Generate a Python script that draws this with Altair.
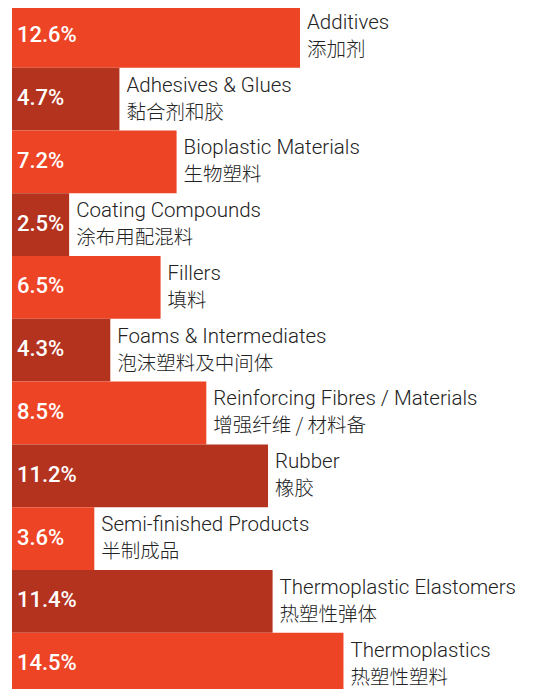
import altair as alt
import pandas as pd

categories_en = ["Additives", "Adhesives & Glues", "Bioplastic Materials", "Coating Compounds",
                 "Fillers", "Foams & Intermediates", "Reinforcing Fibres / Materials", "Rubber",
                 "Semi-finished Products", "Thermoplastic Elastomers", "Thermoplastics"]
categories_zh = ["添加剂", "黏合剂和胶", "生物塑料", "涂布用配混料", "填料", "泡沫塑料及中间体",
                 "增强纤维 / 材料备", "橡胶", "半制成品", "热塑性弹体", "热塑性塑料"]
shares = [12.6, 4.7, 7.2, 2.5, 6.5, 4.3, 8.5, 11.2, 3.6, 11.4, 14.5]
labels = ["12.6%", "4.7%", "7.2%", "2.5%", "6.5%", "4.3%", "8.5%", "11.2%", "3.6%", "11.4%", "14.5%"]
palette = ["#EE4426", "#B4331F"]

df = pd.DataFrame({
    "en": categories_en,
    "zh": categories_zh,
    "share": shares,
    "label": labels,
    "idx": list(range(len(shares))),
})
df["idx2"] = df["idx"] + 1
df["mid"] = df["idx"] + 0.5
df["zero"] = 0.0
df["shade"] = ["a" if i % 2 == 0 else "b" for i in df["idx"]]

xs = alt.Scale(domain=[0, 22.485], nice=False, zero=True)
ys = alt.Scale(domain=[0.048, 10.897], nice=False, zero=False, reverse=True)

base = alt.Chart(df)

bars = base.mark_rect().encode(
    x=alt.X("zero:Q", scale=xs, axis=None),
    x2="share:Q",
    y=alt.Y("idx:Q", scale=ys, axis=None),
    y2="idx2:Q",
    color=alt.Color("shade:N", scale=alt.Scale(domain=["a", "b"], range=palette), legend=None),
)

pct = base.mark_text(align="left", baseline="alphabetic", dx=5, dy=6, color="white",
                     font="Roboto", fontSize=22, fontWeight=500).encode(
    x=alt.X("zero:Q", scale=xs),
    y=alt.Y("mid:Q", scale=ys),
    text="label:N",
)

en = base.mark_text(align="left", baseline="alphabetic", dx=7, dy=-7.5, color="#222222",
                    font="Roboto", fontSize=20.5, fontWeight=300).encode(
    x=alt.X("share:Q", scale=xs),
    y=alt.Y("mid:Q", scale=ys),
    text="en:N",
)

zh = base.mark_text(align="left", baseline="alphabetic", dx=7, dy=19.5, color="#222222",
                    font="Noto Sans CJK SC", fontSize=19.5, fontWeight=300).encode(
    x=alt.X("share:Q", scale=xs),
    y=alt.Y("mid:Q", scale=ys),
    text="zh:N",
)

chart = alt.layer(bars, pct, en, zh).properties(
    width=514, height=681,
    padding={"left": 4, "top": 0, "right": 0, "bottom": 0},
    autosize=alt.AutoSizeParams(type="none"),
).configure_view(stroke=None)

chart.save("out.html", embed_options={"renderer": "svg", "actions": False})
